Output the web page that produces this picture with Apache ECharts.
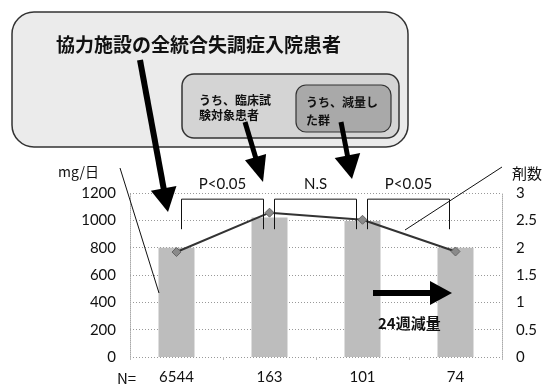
<!DOCTYPE html>
<html>
<head>
<meta charset="utf-8">
<script src="https://cdn.jsdelivr.net/npm/echarts@6/dist/echarts.min.js"></script>
<style>
  html, body { margin: 0; padding: 0; background: #fff; }
  #chart { width: 546px; height: 385px; }
</style>
</head>
<body>
<div id="chart"></div>
<script>
  // N per group (x categories)
  const categories = ['6544', '163', '101', '74'];
  // mean daily dose, mg/日 (bars, left axis)
  const doseMg = [800, 1020, 995, 800];
  // number of drugs, 剤数 (line, right axis)
  const drugCount = [1.92, 2.64, 2.51, 1.93];
  // significance brackets between neighbouring groups
  const bracketLabels = ['P<0.05', 'N.S', 'P<0.05'];

  const numFont = 'Lato, "Open Sans", sans-serif';
  const jpFont = '"Noto Sans CJK JP", sans-serif';

  const chart = echarts.init(document.getElementById('chart'));

  const plainNum = function (v) { return String(v); };

  const option = {
    backgroundColor: '#fff',
    animation: false,
    grid: { left: 130, right: 44, top: 193, bottom: 26 },
    xAxis: {
      type: 'category',
      data: categories,
      axisLine: { show: false },
      axisTick: { show: true, length: 3, lineStyle: { color: '#bbb' } },
      axisLabel: { color: '#111', fontSize: 15, fontFamily: numFont, margin: 13 },
    },
    yAxis: [
      {
        type: 'value',
        min: 0,
        max: 1200,
        interval: 200,
        axisLine: { show: true, lineStyle: { color: '#aaa', type: 'dotted' } },
        axisTick: { show: false },
        axisLabel: { color: '#111', fontSize: 15, fontFamily: numFont, margin: 14, formatter: plainNum },
        splitLine: { lineStyle: { color: '#999', type: [1, 2] } },
      },
      {
        type: 'value',
        min: 0,
        max: 3,
        interval: 0.5,
        axisLine: { show: true, lineStyle: { color: '#aaa', type: 'dotted' } },
        axisTick: { show: false },
        axisLabel: { color: '#111', fontSize: 15, fontFamily: numFont, margin: 14, formatter: plainNum },
        splitLine: { show: false },
      },
    ],
    series: [
      {
        type: 'bar',
        data: doseMg,
        barWidth: 36,
        itemStyle: { color: '#bdbdbd' },
      },
      {
        type: 'line',
        yAxisIndex: 1,
        data: drugCount,
        symbol: 'diamond',
        symbolSize: 9,
        lineStyle: { color: '#333', width: 2 },
        itemStyle: { color: '#8a8a8a', borderColor: '#666', borderWidth: 1 },
        z: 5,
      },
    ],
  };
  chart.setOption(option);

  function arrow(x1, y1, x2, y2, w, headLen, headW) {
    const dx = x2 - x1, dy = y2 - y1;
    const len = Math.sqrt(dx * dx + dy * dy);
    const ux = dx / len, uy = dy / len;
    const nx = -uy, ny = ux;
    const bx = x2 - ux * headLen, by = y2 - uy * headLen;
    return [
      {
        type: 'line', z: 110,
        shape: { x1: x1, y1: y1, x2: bx + ux * 2, y2: by + uy * 2 },
        style: { stroke: '#000', lineWidth: w },
      },
      {
        type: 'polygon', z: 110,
        shape: { points: [[x2, y2], [bx + nx * headW, by + ny * headW], [bx - nx * headW, by - ny * headW]] },
        style: { fill: '#000' },
      },
    ];
  }

  function text(x, y, str, size, weight, align) {
    return {
      type: 'text', z: 105,
      style: {
        x: x, y: y, text: str, fill: '#111',
        font: weight + ' ' + size + 'px ' + jpFont,
        textAlign: align || 'left', textVerticalAlign: 'middle',
      },
    };
  }

  const graphics = [
    // nested population boxes
    { type: 'rect', z: 100, shape: { x: 12, y: 12, width: 396, height: 135, r: 22 },
      style: { fill: '#ebebeb', stroke: '#333', lineWidth: 1.5 } },
    { type: 'rect', z: 101, shape: { x: 182, y: 74, width: 217, height: 64, r: 12 },
      style: { fill: '#d4d4d4', stroke: '#333', lineWidth: 1.5 } },
    { type: 'rect', z: 102, shape: { x: 296, y: 85, width: 95, height: 47, r: 10 },
      style: { fill: '#a9a9a9', stroke: '#333', lineWidth: 1.2 } },
    text(56, 45, '協力施設の全統合失調症入院患者', 19, 'bold'),
    text(199, 100, 'うち、臨床試', 12, 'bold'),
    text(199, 115, '験対象患者', 12, 'bold'),
    text(306, 102, 'うち、減量し', 12, 'bold'),
    text(306, 120, 'た群', 12, 'bold'),
    // axis titles
    text(58, 172, 'mg/日', 14, 'normal'),
    text(512, 173, '剤数', 15, 'normal'),
    text(117, 378, 'N=', 15, 'normal'),
    text(378, 323, '24週減量', 15, 'bold'),
    // thin leader lines
    { type: 'line', z: 104, shape: { x1: 120, y1: 168, x2: 159, y2: 293 }, style: { stroke: '#111', lineWidth: 1 } },
    { type: 'line', z: 104, shape: { x1: 502, y1: 167, x2: 405, y2: 230 }, style: { stroke: '#111', lineWidth: 1 } },
  ]
    .concat(arrow(140, 60, 168, 212, 6, 24, 13))
    .concat(arrow(245, 122, 263, 182, 5, 26, 11))
    .concat(arrow(341, 122, 352, 179, 5, 24, 13))
    .concat(arrow(373, 293, 452, 293, 6, 22, 12));

  // significance brackets placed through the axes
  bracketLabels.forEach(function (label, i) {
    const topL = chart.convertToPixel({ gridIndex: 0 }, [i, 1155]);
    const topR = chart.convertToPixel({ gridIndex: 0 }, [i + 1, 1155]);
    const legY = chart.convertToPixel({ gridIndex: 0 }, [i, 935])[1];
    const xl = topL[0] + 5, xr = topR[0] - 6, yt = topL[1];
    graphics.push({
      type: 'polyline', z: 104,
      shape: { points: [[xl, legY], [xl, yt], [xr, yt], [xr, legY]] },
      style: { stroke: '#111', lineWidth: 1, fill: null },
    });
    graphics.push({
      type: 'text', z: 105,
      style: {
        x: (xl + xr) / 2, y: yt - 15, text: label, fill: '#111',
        font: 'normal 15px ' + numFont, textAlign: 'center', textVerticalAlign: 'middle',
      },
    });
  });

  chart.setOption({ graphic: graphics });
</script>
</body>
</html>
